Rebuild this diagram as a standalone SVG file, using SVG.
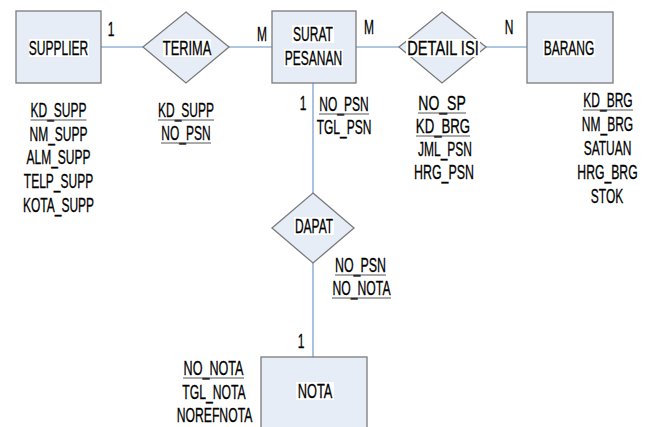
<svg xmlns="http://www.w3.org/2000/svg" width="652" height="427" viewBox="0 0 652 427">
<style>
text{font-family:"Liberation Sans",Arial,sans-serif;font-size:20px;fill:#000;stroke:#000;stroke-width:0.3;text-anchor:middle}
.ent{fill:#e7edf6;stroke:#7a7a7a;stroke-width:1.3}
.con{stroke:#95b3d7;stroke-width:1.6;fill:none}
.ul{stroke:#555;stroke-width:1}
.bg{fill:#fff}
</style>
<rect width="652" height="427" fill="#fff"/>
<g id="connectors">
<line class="con" x1="101" y1="47" x2="143" y2="47"/>
<line class="con" x1="229" y1="47" x2="272" y2="47"/>
<line class="con" x1="356" y1="47" x2="399" y2="47"/>
<line class="con" x1="486" y1="47" x2="527" y2="47"/>
<line class="con" x1="313" y1="83" x2="313" y2="193"/>
<line class="con" x1="313" y1="263" x2="313" y2="357"/>
<text transform="translate(111,36) scale(0.6,1)">1</text>
<text transform="translate(262,41) scale(0.6,1)">M</text>
<text transform="translate(369,34) scale(0.6,1)">M</text>
<text transform="translate(509,34) scale(0.6,1)">N</text>
<text transform="translate(303,110) scale(0.6,1)">1</text>
<text transform="translate(301,348) scale(0.6,1)">1</text>
</g>
<g id="supplier">
<rect class="ent" x="16" y="11" width="85" height="72"/>
<rect class="bg" x="29" y="39" width="60" height="18"/>
<text transform="translate(58.5,55) scale(0.6,1)">SUPPLIER</text>
<text transform="translate(58.5,117) scale(0.6,1)">KD_SUPP</text>
<line class="ul" x1="30.5" y1="120" x2="86.5" y2="120"/>
<text transform="translate(58.5,141) scale(0.6,1)">NM_SUPP</text>
<text transform="translate(58.5,164) scale(0.6,1)">ALM_SUPP</text>
<text transform="translate(58.5,188) scale(0.6,1)">TELP_SUPP</text>
<text transform="translate(58.5,212) scale(0.6,1)">KOTA_SUPP</text>
</g>
<g id="terima">
<polygon class="ent" points="186,12 229,47 186,83 143,47"/>
<rect class="bg" x="163" y="39" width="48" height="18"/>
<text transform="translate(187,55) scale(0.64,1)">TERIMA</text>
<text transform="translate(186,117) scale(0.6,1)">KD_SUPP</text>
<line class="ul" x1="158" y1="120" x2="214" y2="120"/>
<text transform="translate(186,140) scale(0.6,1)">NO_PSN</text>
<line class="ul" x1="161" y1="143" x2="211" y2="143"/>
</g>
<g id="surat-pesanan">
<rect class="ent" x="272" y="11" width="84" height="72"/>
<rect class="bg" x="292" y="25" width="42" height="18"/>
<rect class="bg" x="284" y="49" width="59" height="18"/>
<text transform="translate(313,41) scale(0.6,1)">SURAT</text>
<text transform="translate(313.5,65) scale(0.6,1)">PESANAN</text>
<text transform="translate(344,111) scale(0.6,1)">NO_PSN</text>
<line class="ul" x1="319" y1="114" x2="369" y2="114"/>
<text transform="translate(344,134) scale(0.6,1)">TGL_PSN</text>
</g>
<g id="detail-isi">
<polygon class="ent" points="442,12 486,47 442,83 399,47"/>
<rect class="bg" x="406" y="39" width="74" height="18"/>
<text transform="translate(443,55) scale(0.73,1)">DETAIL ISI</text>
<text transform="translate(442,110) scale(0.7,1)">NO_SP</text>
<line class="ul" x1="418" y1="113" x2="466" y2="113"/>
<text transform="translate(443,133) scale(0.66,1)">KD_BRG</text>
<line class="ul" x1="416" y1="136" x2="470" y2="136"/>
<text transform="translate(445,156) scale(0.6,1)">JML_PSN</text>
<text transform="translate(444,179) scale(0.62,1)">HRG_PSN</text>
</g>
<g id="barang">
<rect class="ent" x="527" y="12" width="86" height="71"/>
<rect class="bg" x="543" y="39" width="52" height="18"/>
<text transform="translate(569,55) scale(0.6,1)">BARANG</text>
<text transform="translate(608,107) scale(0.6,1)">KD_BRG</text>
<line class="ul" x1="583" y1="110" x2="633" y2="110"/>
<text transform="translate(607.5,131) scale(0.6,1)">NM_BRG</text>
<text transform="translate(607.5,155) scale(0.6,1)">SATUAN</text>
<text transform="translate(607.5,179) scale(0.61,1)">HRG_BRG</text>
<text transform="translate(607,203) scale(0.6,1)">STOK</text>
</g>
<g id="dapat">
<polygon class="ent" points="313,193 354,228 313,263 272,228"/>
<rect class="bg" x="294" y="217" width="40" height="18"/>
<text transform="translate(314,233) scale(0.6,1)">DAPAT</text>
<text transform="translate(360.5,272) scale(0.62,1)">NO_PSN</text>
<line class="ul" x1="335" y1="275" x2="386" y2="275"/>
<text transform="translate(361.5,295) scale(0.61,1)">NO_NOTA</text>
<line class="ul" x1="332" y1="298" x2="391" y2="298"/>
</g>
<g id="nota">
<rect class="ent" x="261" y="357" width="106" height="80"/>
<rect class="bg" x="296" y="382" width="38" height="18"/>
<text transform="translate(315,398) scale(0.64,1)">NOTA</text>
<text transform="translate(213.5,375) scale(0.63,1)">NO_NOTA</text>
<line class="ul" x1="183" y1="378" x2="244" y2="378"/>
<text transform="translate(214,399) scale(0.61,1)">TGL_NOTA</text>
<text transform="translate(214.5,422) scale(0.61,1)">NOREFNOTA</text>
</g>
</svg>
